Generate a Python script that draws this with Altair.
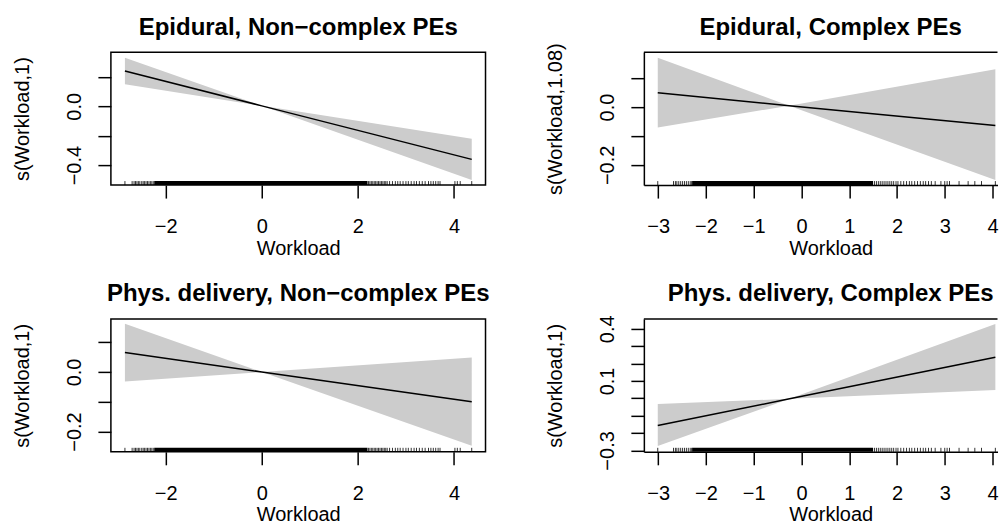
import altair as alt
import pandas as pd

FONT = "Liberation Sans"

# ---------------- data ----------------
titles = ["Epidural, Non\u2212complex PEs", "Epidural, Complex PEs",
          "Phys. delivery, Non\u2212complex PEs", "Phys. delivery, Complex PEs"]
ylabels = ["s(Workload,1)", "s(Workload,1.08)", "s(Workload,1)", "s(Workload,1)"]

# smooth estimate (fit) and shaded band (lo / hi) at left end, pinch point, right end
p1_x = [-2.85, 0.0, 4.37]
p1_fit = [0.240, 0.003, -0.361]
p1_lo = [0.150, 0.003, -0.502]
p1_hi = [0.330, 0.003, -0.220]

p2_x = [-3.01, -0.26, 4.06]
p2_fit = [0.050, 0.005, -0.064]
p2_lo = [-0.071, 0.005, -0.252]
p2_hi = [0.171, 0.005, 0.131]

p3_x = [-2.85, 0.0, 4.37]
p3_fit = [0.065, 0.0, -0.100]
p3_lo = [-0.032, 0.0, -0.248]
p3_hi = [0.162, 0.0, 0.049]

p4_x = [-3.01, -0.25, 4.06]
p4_fit = [-0.156, -0.003, 0.236]
p4_lo = [-0.274, -0.003, 0.048]
p4_hi = [-0.032, -0.003, 0.428]

# axis ranges and ticks
x_dom_nc = [-3.142, 4.657]
x_dom_c = [-3.301, 4.105]   # right-hand panels are cropped at the picture edge
x_ticks_nc = [-2, 0, 2, 4]
x_ticks_c = [-3, -2, -1, 0, 1, 2, 3, 4]

y_dom = [[-0.536, 0.368], [-0.270, 0.190], [-0.268, 0.178], [-0.308, 0.457]]
y_ticks = [[-0.4, -0.2, 0.0, 0.2], [-0.2, -0.1, 0.0, 0.1], [-0.2, -0.1, 0.0, 0.1],
           [-0.3, -0.2, -0.1, 0.0, 0.1, 0.2, 0.3, 0.4]]
y_labeled = [[-0.4, 0.0], [-0.2, 0.0], [-0.2, 0.0], [-0.3, 0.1, 0.4]]

# rug of observed Workload values (solid stretch + individual ticks)
rug_nc_solid = [[-2.24, 2.20]]
rug_nc = [-2.85, -2.70, -2.66, -2.63, -2.60, -2.57, -2.54, -2.50, -2.47, -2.44, -2.41,
          -2.38, -2.35, -2.32, -2.29, -2.26, 2.22, 2.25, 2.28, 2.31, 2.34, 2.37, 2.40,
          2.43, 2.46, 2.49, 2.52, 2.55, 2.58, 2.61, 2.66, 2.72, 2.78, 2.83, 2.88, 2.94,
          3.00, 3.05, 3.11, 3.17, 3.22, 3.28, 3.34, 3.40, 3.47, 3.52, 3.57, 3.62, 3.67,
          3.71, 4.02, 4.07, 4.13, 4.37]
rug_c_solid = [[-2.29, 1.50]]
rug_c = [-3.01, -2.68, -2.64, -2.61, -2.57, -2.53, -2.49, -2.45, -2.41, -2.37, -2.33,
         -2.30, 1.53, 1.57, 1.61, 1.65, 1.69, 1.73, 1.77, 1.81, 1.85, 1.89, 1.93, 1.98,
         2.02, 2.08, 2.14, 2.20, 2.26, 2.31, 2.37, 2.43, 2.49, 2.55, 2.60, 2.66, 2.72,
         2.80, 2.92, 3.00, 3.05, 3.10, 3.30, 3.49, 3.63, 3.77, 4.06]

# ---------------- layout ----------------
H = 133
W_LEFT = 375
W_RIGHT = 354
TITLE_CX_RIGHT = 187  # centre of the (uncropped) right-hand box


def make_panel(i, xs, fit, lo, hi, xdom, xticks, rug, rug_solid, right):
    W = W_RIGHT if right else W_LEFT
    df = pd.DataFrame({"x": xs, "fit": fit, "lo": lo, "hi": hi})
    xs_ = alt.Scale(domain=xdom, nice=False, zero=False)
    ys_ = alt.Scale(domain=y_dom[i], nice=False, zero=False)
    cond = " || ".join(f"abs(datum.value - ({v})) < 1e-6" for v in y_labeled[i])
    common = dict(grid=False, domain=right, domainColor="black", domainWidth=1.5,
                  ticks=True, tickSize=13, tickWidth=1.5, tickColor="black",
                  labelFont=FONT, labelFontSize=20, labelColor="black",
                  labelFlush=False, labelOverlap=False,
                  titleFont=FONT, titleFontSize=20, titleFontWeight="normal",
                  titleColor="black")
    cx = TITLE_CX_RIGHT if right else W / 2
    xaxis = alt.Axis(values=xticks, format="d", title="Workload",
                     labelPadding=34.5, labelBaseline="alphabetic", labelAlign="center",
                     titleBaseline="alphabetic", titleAlign="center",
                     titleY=69, titleX=cx, **common)
    yaxis = alt.Axis(values=y_ticks[i], format=".1f",
                     labelExpr=f"({cond}) ? datum.label : ''",
                     title=ylabels[i], labelAngle=270, labelAlign="center",
                     labelBaseline="alphabetic", labelPadding=17,
                     titleAngle=270, titleAlign="center", titleBaseline="alphabetic",
                     titleX=-82, titleY=H / 2, **common)

    X = lambda f: alt.X(f, scale=xs_, axis=xaxis)
    Y = lambda f: alt.Y(f, scale=ys_, axis=yaxis)

    band = alt.Chart(df).mark_area(color="#cccccc", opacity=1).encode(
        x=X("x:Q"), y=Y("lo:Q"), y2="hi:Q",
    )
    line = alt.Chart(df).mark_line(color="black", strokeWidth=1.5).encode(
        x=X("x:Q"), y=Y("fit:Q"),
    )
    solid_df = pd.DataFrame({"a": [s[0] for s in rug_solid], "b": [s[1] for s in rug_solid]})
    rug_rect = alt.Chart(solid_df).mark_rect(color="black").encode(
        x=X("a:Q"), x2="b:Q",
        y=alt.value(H - 4), y2=alt.value(H),
    )
    rug_df = pd.DataFrame({"r": rug})
    rug_ticks = alt.Chart(rug_df).mark_rule(color="black", strokeWidth=0.8).encode(
        x=X("r:Q"),
        y=alt.value(H - 4), y2=alt.value(H),
    )
    title = alt.Chart(pd.DataFrame({"t": [titles[i]]})).mark_text(
        font=FONT, fontSize=24, fontWeight="bold", color="black",
        align="center", baseline="alphabetic",
    ).encode(text="t:N", x=alt.value(cx), y=alt.value(-17.5))
    layers = [band, line, rug_rect, rug_ticks, title]
    if right:
        top = alt.Chart(pd.DataFrame({"k": [0]})).mark_rule(color="black", strokeWidth=1.5).encode(
            x=alt.value(0), x2=alt.value(W), y=alt.value(0)
        )
        layers.append(top)
    view = alt.ViewBackground(stroke="transparent") if right else alt.ViewBackground(
        stroke="black", strokeWidth=1.5)
    return alt.layer(*layers).properties(width=W, height=H, view=view)


p1 = make_panel(0, p1_x, p1_fit, p1_lo, p1_hi, x_dom_nc, x_ticks_nc, rug_nc, rug_nc_solid, False)
p2 = make_panel(1, p2_x, p2_fit, p2_lo, p2_hi, x_dom_c, x_ticks_c, rug_c, rug_c_solid, True)
p3 = make_panel(2, p3_x, p3_fit, p3_lo, p3_hi, x_dom_nc, x_ticks_nc, rug_nc, rug_nc_solid, False)
p4 = make_panel(3, p4_x, p4_fit, p4_lo, p4_hi, x_dom_c, x_ticks_c, rug_c, rug_c_solid, True)

chart = alt.ConcatChart(
    concat=[p1, p2, p3, p4], columns=2,
    spacing=alt.RowColnumber(row=134, column=158.5),
    bounds="flush",
).properties(
    padding={"left": 4, "top": 6, "right": 0, "bottom": 0},
    background="white",
)

chart.save("out.html", embed_options={"renderer": "svg", "actions": False})
